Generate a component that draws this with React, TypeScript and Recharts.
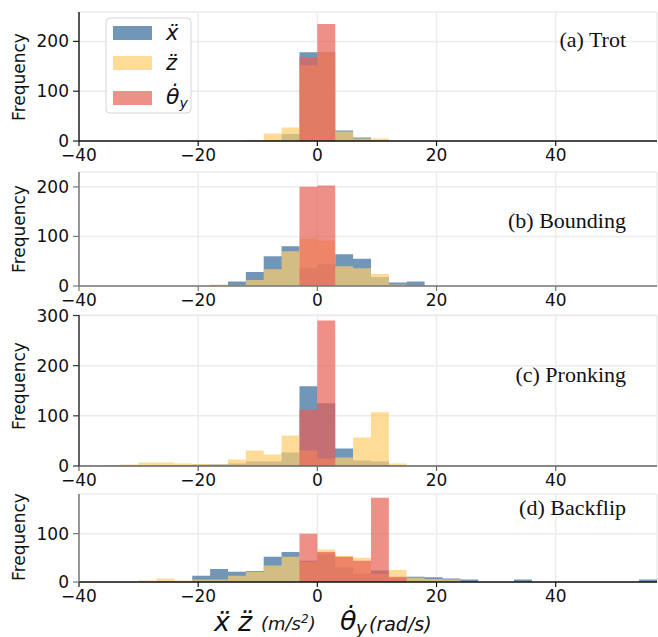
import React from 'react';
import { AreaChart, Area, XAxis, YAxis, CartesianGrid } from 'recharts';

// Histogram bin edges (left edges, last entry closes the final bin)
const EDGES = [-39, -36, -33, -30, -27, -24, -21, -18, -15, -12, -9, -6, -3, 0, 3, 6, 9, 12, 15, 18, 21, 24, 27, 30, 33, 36, 39, 42, 45, 48, 51, 54, 57];

// (a) Trot
const TROT_X = [0, 0, 0, 0, 0, 0, 0, 0, 0, 1, 2, 14, 178, 178, 21, 7, 1, 0, 0, 0, 0, 0, 0, 0, 0, 0, 0, 0, 0, 0, 0, 0, 0];
const TROT_Z = [0, 0, 0, 0, 0, 0, 0, 0, 0, 2, 15, 27, 152, 178, 19, 5, 5, 0, 0, 0, 0, 0, 0, 0, 0, 0, 0, 0, 0, 0, 0, 0, 0];
const TROT_TH = [0, 0, 0, 0, 0, 0, 0, 0, 0, 0, 0, 0, 168, 235, 0, 0, 0, 0, 0, 0, 0, 0, 0, 0, 0, 0, 0, 0, 0, 0, 0, 0, 0];

// (b) Bounding
const BOUND_X = [0, 0, 0, 0, 0, 0, 0, 1, 9, 28, 60, 80, 36, 44, 64, 55, 18, 7, 9, 0, 0, 0, 0, 0, 0, 0, 0, 0, 0, 0, 0, 0, 0];
const BOUND_Z = [0, 0, 0, 0, 0, 0, 1, 3, 2, 12, 34, 70, 96, 92, 40, 36, 24, 3, 1, 0, 0, 0, 0, 0, 0, 0, 0, 0, 0, 0, 0, 0, 0];
const BOUND_TH = [0, 0, 0, 0, 0, 0, 0, 0, 0, 0, 0, 0, 200, 203, 0, 0, 0, 0, 0, 0, 0, 0, 0, 0, 0, 0, 0, 0, 0, 0, 0, 0, 0];

// (c) Pronking
const PRONK_X = [0, 1, 1, 1, 2, 2, 3, 3, 5, 9, 9, 27, 159, 125, 35, 11, 9, 1, 0, 0, 0, 0, 0, 0, 0, 0, 0, 0, 0, 0, 0, 0, 0];
const PRONK_Z = [0, 0, 3, 7, 7, 5, 4, 3, 13, 31, 23, 61, 31, 15, 17, 57, 107, 5, 0, 0, 0, 0, 0, 0, 0, 0, 0, 0, 0, 0, 0, 0, 0];
const PRONK_TH = [0, 0, 0, 0, 0, 0, 0, 0, 0, 0, 0, 0, 112, 290, 0, 0, 0, 0, 0, 0, 0, 0, 0, 0, 0, 0, 0, 0, 0, 0, 0, 0, 0];

// (d) Backflip
const BACK_X = [0, 0, 0, 0, 1, 1, 13, 27, 21, 23, 52, 62, 44, 58, 30, 17, 24, 8, 11, 10, 7, 5, 0, 0, 5, 0, 0, 0, 0, 0, 0, 5, 0];
const BACK_Z = [0, 0, 0, 3, 7, 3, 5, 5, 13, 21, 34, 52, 42, 67, 54, 50, 17, 25, 9, 6, 5, 0, 0, 0, 0, 0, 0, 0, 0, 0, 0, 0, 0];
const BACK_TH = [0, 0, 0, 0, 0, 0, 0, 0, 0, 0, 0, 0, 100, 62, 52, 44, 174, 11, 0, 0, 0, 0, 0, 0, 0, 0, 0, 0, 0, 0, 0, 0, 0];

const X_TICKS = [-40, -20, 0, 20, 40];
const TITLES = ['(a) Trot', '(b) Bounding', '(c) Pronking', '(d) Backflip'];

const C_X = '#36699a';
const C_Z = '#fecd6c';
const C_TH = '#e76055';
const ALPHA = 0.7;

const FONT = "'DejaVu Sans', sans-serif";
const SERIF = "'Liberation Serif', 'Times New Roman', serif";

const fmt = (v: number) => (v < 0 ? '\u2212' + Math.abs(v) : String(v));

type PanelProps = {
  top: number;
  height: number;
  marginTop: number;
  yMax: number;
  yTicks: number[];
  x: number[];
  z: number[];
  th: number[];
  leftSpine: string;
  bottomSpine: string;
};

function Panel({ top, height, marginTop, yMax, yTicks, x, z, th, leftSpine, bottomSpine }: PanelProps) {
  const data = EDGES.map((e, i) => ({ edge: e, ax: x[i], az: z[i], th: th[i] }));
  const tickStyle = { fill: '#111', fontSize: 17, fontFamily: FONT };
  return (
    <div style={{ position: 'absolute', left: 0, top, width: 658, height }}>
      <AreaChart width={658} height={height} data={data} margin={{ top: marginTop, right: 1, bottom: 0, left: 0 }}>
        <CartesianGrid stroke="#ececec" strokeWidth={1.5} />
        <Area type="stepAfter" dataKey="ax" stroke="none" fill={C_X} fillOpacity={ALPHA} isAnimationActive={false} dot={false} activeDot={false} />
        <Area type="stepAfter" dataKey="az" stroke="none" fill={C_Z} fillOpacity={ALPHA} isAnimationActive={false} dot={false} activeDot={false} />
        <Area type="stepAfter" dataKey="th" stroke="none" fill={C_TH} fillOpacity={ALPHA} isAnimationActive={false} dot={false} activeDot={false} />
        <XAxis
          type="number"
          dataKey="edge"
          domain={[-40, 57]}
          ticks={X_TICKS}
          allowDataOverflow
          height={30}
          tickFormatter={fmt}
          tick={tickStyle}
          axisLine={{ stroke: bottomSpine, strokeWidth: 1.5 }}
          tickLine={{ stroke: bottomSpine, strokeWidth: 1.2 }}
          tickSize={5}
          tickMargin={3}
          interval={0}
        />
        <YAxis
          type="number"
          domain={[0, yMax]}
          ticks={yTicks}
          allowDataOverflow
          width={79}
          tick={tickStyle}
          axisLine={{ stroke: leftSpine, strokeWidth: 1.5 }}
          tickLine={{ stroke: leftSpine, strokeWidth: 1.2 }}
          tickSize={6}
          tickMargin={4}
          interval={0}
        />
      </AreaChart>
    </div>
  );
}

function Overlay() {
  const freqCenters = [77, 229, 386, 537];
  const titleBase = [47, 228, 382, 515];
  return (
    <svg width={658} height={637} style={{ position: 'absolute', left: 0, top: 0, pointerEvents: 'none' }}>
      {freqCenters.map((cy, i) => (
        <text key={'f' + i} x={0} y={0} transform={`translate(25,${cy}) rotate(-90)`} textAnchor="middle" fontFamily={FONT} fontSize={17} fill="#111">
          Frequency
        </text>
      ))}
      {TITLES.map((t, i) => (
        <text key={'t' + i} x={626} y={titleBase[i]} textAnchor="end" fontFamily={SERIF} fontSize={22} fill="#111">
          {t}
        </text>
      ))}
      {/* legend */}
      <rect x={106} y={18} width={85} height={95} rx={4} fill="#fff" fillOpacity={0.85} stroke="#d6d6d6" strokeWidth={1} />
      <rect x={113} y={26} width={39} height={14} fill={C_X} fillOpacity={ALPHA} />
      <rect x={113} y={56} width={39} height={14} fill={C_Z} fillOpacity={ALPHA} />
      <rect x={113} y={91} width={39} height={14} fill={C_TH} fillOpacity={ALPHA} />
      <text x={166} y={40} fontFamily={FONT} fontStyle="italic" fontSize={21} fill="#111">{'x\u0308'}</text>
      <text x={166} y={70} fontFamily={FONT} fontStyle="italic" fontSize={21} fill="#111">{'z\u0308'}</text>
      <text x={166} y={104} fontFamily={FONT} fontStyle="italic" fontSize={22} fill="#111">
        {'\u03b8\u0307'}
        <tspan fontSize={14} dy={4}>y</tspan>
      </text>
      {/* x-axis label */}
      <text x={214} y={631} fontFamily={FONT} fontStyle="italic" fontSize={27} fill="#111">{'x\u0308'}</text>
      <text x={238} y={631} fontFamily={FONT} fontStyle="italic" fontSize={27} fill="#111">{'z\u0308'}</text>
      <text x={261} y={630} fontFamily={FONT} fontStyle="italic" fontSize={18} fill="#111">
        (m/s<tspan fontSize={12} dy={-7}>2</tspan><tspan dy={7}>)</tspan>
      </text>
      <text x={340} y={630} fontFamily={FONT} fontStyle="italic" fontSize={27} fill="#111">{'\u03b8\u0307'}</text>
      <text x={356} y={634} fontFamily={FONT} fontStyle="italic" fontSize={18} fill="#111">y</text>
      <text x={369} y={631} fontFamily={FONT} fontStyle="italic" fontSize={19} fill="#111">(rad/s)</text>
    </svg>
  );
}

export default function App() {
  return (
    <div style={{ position: 'absolute', left: 0, top: 0, width: 658, height: 637, background: '#fff', overflow: 'hidden' }}>
      <Panel top={0} height={171} marginTop={12} yMax={259} yTicks={[0, 100, 200]} x={TROT_X} z={TROT_Z} th={TROT_TH} leftSpine="#222" bottomSpine="#111" />
      <Panel top={160} height={156} marginTop={12} yMax={230} yTicks={[0, 100, 200]} x={BOUND_X} z={BOUND_Z} th={BOUND_TH} leftSpine="#777" bottomSpine="#777" />
      <Panel top={300} height={196} marginTop={15} yMax={301} yTicks={[0, 100, 200, 300]} x={PRONK_X} z={PRONK_Z} th={PRONK_TH} leftSpine="#333" bottomSpine="#666" />
      <Panel top={480} height={132} marginTop={14} yMax={182} yTicks={[0, 100]} x={BACK_X} z={BACK_Z} th={BACK_TH} leftSpine="#777" bottomSpine="#111" />
      <Overlay />
    </div>
  );
}
